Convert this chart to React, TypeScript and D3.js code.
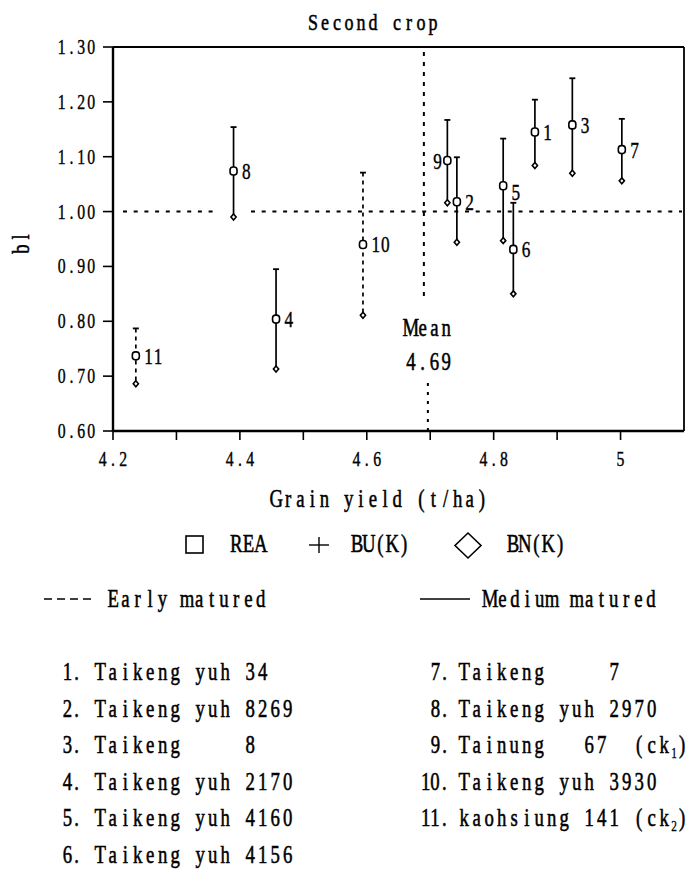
import React from "react";
import * as d3 from "d3";

// genotype no., grain yield (t/ha), REA / BU(K) / BN(K) stability values
const ids = [1, 2, 3, 4, 5, 6, 7, 8, 9, 10, 11];
const grainYield = [4.865, 4.742, 4.924, 4.457, 4.815, 4.831, 5.002, 4.39, 4.727, 4.594, 4.236];
const rea = [1.145, 1.018, 1.158, 0.804, 1.047, 0.931, 1.113, 1.074, 1.093, 0.94, 0.737];
const buK = [1.204, 1.099, 1.243, 0.895, 1.133, 1.016, 1.169, 1.154, 1.167, 1.071, 0.787];
const bnK = [1.084, 0.944, 1.07, 0.713, 0.947, 0.85, 1.056, 0.99, 1.016, 0.811, 0.686];
const early = [false, false, false, false, false, false, false, false, false, true, true];

const xTicks = [4.2, 4.3, 4.4, 4.5, 4.6, 4.7, 4.8, 4.9, 5.0];
const xTickLabels = ["4.2", "", "4.4", "", "4.6", "", "4.8", "", "5"];
const yTicks = [0.6, 0.7, 0.8, 0.9, 1.0, 1.1, 1.2, 1.3];
const meanYield = 4.69;

const leftNames = ["Taikeng yuh 34", "Taikeng yuh 8269", "Taikeng     8", "Taikeng yuh 2170", "Taikeng yuh 4160", "Taikeng yuh 4156"];
const rightNames = ["Taikeng     7", "Taikeng yuh 2970", "Tainung   67  (ck", "Taikeng yuh 3930", "kaohsiung 141 (ck"];
const rightSubs = ["", "", "1", "", "2"];

const FONT = "'Liberation Serif', 'DejaVu Serif', serif";

// fixed-pitch look from a proportional serif: every character centred in its own cell, squeezed sideways
function T({ x, y, s, cw, size, anchor = "start", weight = 0.55, sx = 0.75 }: any) {
  const total = s.length * cw;
  const start = anchor === "middle" ? x - total / 2 : anchor === "end" ? x - total : x;
  return (
    <g>
      {[...s].map((c: string, i: number) =>
        c === " " ? null : (
          <text
            key={i}
            x={(start + i * cw + cw / 2) / sx}
            y={y}
            transform={`scale(${sx},1)`}
            textAnchor="middle"
            fontFamily={FONT}
            fontSize={size}
            stroke="#000"
            strokeWidth={weight}
          >
            {c}
          </text>
        )
      )}
    </g>
  );
}

export default function App() {
  const x = d3.scaleLinear().domain([4.2, 5.1]).range([113, 684]);
  const y = d3.scaleLinear().domain([0.6, 1.3]).range([431, 47]);
  const [x0, x1] = x.range();
  const [yb, yt] = y.range();

  const labelPos: Record<number, [number, number, string]> = {
    9: [-5, 0, "end"],
    5: [8, 6, "start"],
  };

  const rowY = (i: number) => 680 + i * 36.6;

  return (
    <svg width={693} height={870} style={{ position: "absolute", left: 0, top: 0 }}>
      <rect width={693} height={870} fill="#fff" />

      <T x={373} y={30} s="Second crop" cw={12} size={24} anchor="middle" />

      {/* frame */}
      <line x1={x0} x2={x1} y1={yt} y2={yt} stroke="#000" strokeWidth={1.8} />
      <line x1={x1} x2={x1} y1={yt} y2={yb} stroke="#000" strokeWidth={1.8} />
      <line x1={x0} x2={x1} y1={yb} y2={yb} stroke="#000" strokeWidth={2.4} />
      <line x1={x0} x2={x0} y1={yt} y2={yb} stroke="#000" strokeWidth={2.4} />

      {/* y ticks */}
      {yTicks.map((t) => (
        <g key={t}>
          <line x1={x0 - 10} x2={x0} y1={y(t)} y2={y(t)} stroke="#000" strokeWidth={1.6} />
          <T x={96} y={y(t) + 7} s={t.toFixed(2)} cw={9.8} size={21} anchor="end" weight={0.4} />
        </g>
      ))}
      {/* x ticks */}
      {xTicks.map((t, i) => (
        <g key={t}>
          <line x1={x(t)} x2={x(t)} y1={yb} y2={yb + 9} stroke="#000" strokeWidth={1.6} />
          {xTickLabels[i] && (
            <T x={x(t)} y={466} s={xTickLabels[i]} cw={10.3} size={21} anchor="middle" weight={0.4} />
          )}
        </g>
      ))}

      <g transform="translate(29,243) rotate(-90)">
        <T x={0} y={0} s="bl" cw={12} size={25} anchor="middle" />
      </g>

      {/* reference lines */}
      <line x1={123} x2={215} y1={y(1)} y2={y(1)} stroke="#000" strokeWidth={2} strokeDasharray="4 6.7" />
      <line x1={251} x2={x1 - 2} y1={y(1)} y2={y(1)} stroke="#000" strokeWidth={2} strokeDasharray="4 6.7" />
      <line x1={x(meanYield)} x2={x(meanYield)} y1={52} y2={297} stroke="#000" strokeWidth={2} strokeDasharray="4 6" />
      <line x1={x(meanYield) + 4} x2={x(meanYield) + 4} y1={383} y2={yb} stroke="#000" strokeWidth={2} strokeDasharray="3 6" />
      <T x={405} y={336} s="Mean" cw={11.8} size={25} />
      <T x={405} y={370} s="4.69" cw={11.8} size={25} />

      {/* genotypes */}
      {ids.map((id, i) => {
        const cx = x(grainYield[i]);
        const [dx, dy, anchor] = labelPos[id] || [8, 0, "start"];
        return (
          <g key={id}>
            <line
              x1={cx}
              x2={cx}
              y1={y(buK[i])}
              y2={y(bnK[i])}
              stroke="#000"
              strokeWidth={1.7}
              strokeDasharray={early[i] ? "4 4" : undefined}
            />
            <line x1={cx - 3} x2={cx + 3} y1={y(buK[i])} y2={y(buK[i])} stroke="#000" strokeWidth={1.8} />
            <path
              d={`M${cx},${y(bnK[i]) - 3}L${cx + 2.6},${y(bnK[i])}L${cx},${y(bnK[i]) + 3}L${cx - 2.6},${y(bnK[i])}Z`}
              fill="#fff"
              stroke="#000"
              strokeWidth={1.6}
            />
            <rect x={cx - 3.5} y={y(rea[i]) - 4} width={7} height={8} rx={3} fill="#fff" stroke="#000" strokeWidth={1.6} />
            <T
              x={cx + dx}
              y={y(rea[i]) + dy + 8}
              s={String(id)}
              cw={9.5}
              size={23}
              anchor={anchor}
              weight={0.4}
            />
          </g>
        );
      })}

      <T x={379} y={507} s="Grain yield (t/ha)" cw={12.1} size={25} anchor="middle" />

      {/* symbol legend */}
      <rect x={186} y={536} width={17} height={17} fill="none" stroke="#000" strokeWidth={1.6} />
      <T x={230} y={552} s="REA" cw={12.3} size={25} />
      <line x1={309} x2={329} y1={545} y2={545} stroke="#000" strokeWidth={1.4} />
      <line x1={319} x2={319} y1={537} y2={553} stroke="#000" strokeWidth={1.4} />
      <T x={351} y={552} s="BU(K)" cw={11.8} size={25} />
      <path d="M468,533L481,545.5L468,558L455,545.5Z" fill="none" stroke="#000" strokeWidth={1.6} />
      <T x={507} y={552} s="BN(K)" cw={11.8} size={25} />

      {/* maturity legend */}
      <line x1={44} x2={93} y1={599} y2={599} stroke="#000" strokeWidth={1.5} strokeDasharray="8 5" />
      <T x={107} y={607} s="Early matured" cw={12.3} size={25} />
      <line x1={420} x2={470} y1={599} y2={599} stroke="#000" strokeWidth={1.5} />
      <T x={484} y={607} s="Medium matured" cw={12.36} size={25} />

      {/* genotype list */}
      {leftNames.map((n, i) => (
        <g key={n + i}>
          <T x={81} y={rowY(i)} s={`${ids[i]}.`} cw={9} size={25} anchor="end" />
          <T x={94} y={rowY(i)} s={n} cw={12.5} size={25} />
        </g>
      ))}
      {rightNames.map((n, i) => (
        <g key={n + i}>
          <T x={449} y={rowY(i)} s={`${ids[i + 6]}.`} cw={i >= 3 ? 9.3 : 9} size={25} anchor="end" />
          <T x={458} y={rowY(i)} s={n} cw={12.5} size={25} />
          {rightSubs[i] && (
            <>
              <T x={458 + n.length * 12.5} y={rowY(i) + 5} s={rightSubs[i]} cw={7} size={15} weight={0.3} />
              <T x={458 + n.length * 12.5 + 7.5} y={rowY(i)} s=")" cw={8} size={25} />
            </>
          )}
        </g>
      ))}
    </svg>
  );
}
